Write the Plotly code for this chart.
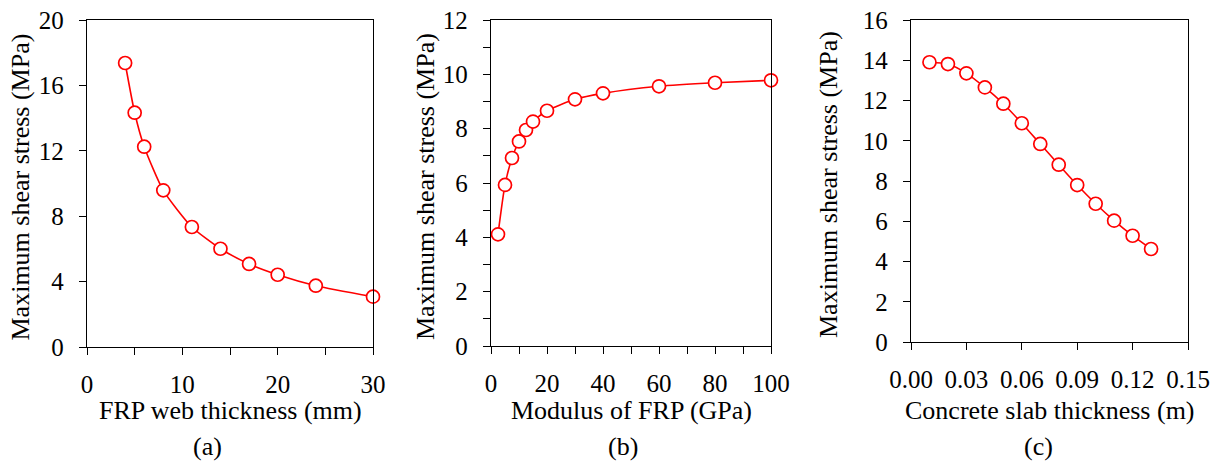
import plotly.graph_objects as go

# Panel (a)
web_thickness = [4, 5, 6, 8, 11, 14, 17, 20, 24, 30]
stress_a = [17.37, 14.33, 12.25, 9.58, 7.34, 6.01, 5.08, 4.42, 3.75, 3.08]

# Panel (b)
modulus = [2.5, 5, 7.5, 10, 12.5, 15, 20, 30, 40, 60, 80, 100]
stress_b = [4.11, 5.93, 6.92, 7.53, 7.95, 8.26, 8.66, 9.08, 9.30, 9.56, 9.69, 9.78]

# Panel (c)
slab_thickness = [0.01, 0.02, 0.03, 0.04, 0.05, 0.06, 0.07, 0.08, 0.09, 0.10, 0.11, 0.12, 0.13]
stress_c = [13.90, 13.81, 13.35, 12.65, 11.84, 10.87, 9.84, 8.81, 7.80, 6.87, 6.03, 5.28, 4.62]

x_titles = ["FRP web thickness (mm)", "Modulus of FRP (GPa)", "Concrete slab thickness (m)"]
y_title = "Maximum shear stress (MPa)"
panel_labels = ["(a)", "(b)", "(c)"]

W, H = 1217, 463
FONT = "Liberation Serif, Times New Roman, serif"
RED = "#FF0000"
FS_TICK = 25
FS_TITLE = 26

fig = go.Figure()

def px_x(p):
    return p / W

def px_y(p):
    return 1 - p / H

domains = [
    ((87, 373), (347, 20)),
    ((491, 771), (346, 20)),
    ((911, 1188), (342, 20)),
]
ytitle_x = [20, 425, 828]
label_x = [207, 623, 1038]

data = [(web_thickness, stress_a), (modulus, stress_b), (slab_thickness, stress_c)]

for i, (xs, ys) in enumerate(data):
    sfx = "" if i == 0 else str(i + 1)
    fig.add_trace(go.Scatter(
        x=xs, y=ys, mode="lines+markers",
        line=dict(color=RED, width=1.6, shape="spline", smoothing=0.6),
        marker=dict(symbol="circle", size=13, color="white", line=dict(color=RED, width=1.7)),
        xaxis="x" + sfx, yaxis="y" + sfx, showlegend=False,
        cliponaxis=False,
    ))

minor_tick = dict(ticks="outside", ticklen=7, tickwidth=1.3, tickcolor="black")
axis_common = dict(
    showline=True, linecolor="black", linewidth=1.4, mirror=True,
    ticks="outside", ticklen=7, tickwidth=1.3, tickcolor="black",
    showgrid=False, zeroline=False, automargin=False,
    tickfont=dict(family=FONT, size=FS_TICK, color="black"),
)

xcfg = [
    dict(range=[0, 30], tickvals=[0, 10, 20, 30], minor=dict(tickvals=[5, 15, 25], **minor_tick)),
    dict(range=[0, 100], tickvals=[0, 20, 40, 60, 80, 100], minor=dict(tickvals=[10, 30, 50, 70, 90], **minor_tick)),
    dict(range=[0, 0.15], tickvals=[0, 0.03, 0.06, 0.09, 0.12, 0.15], tickformat=".2f"),
]
ycfg = [
    dict(range=[0, 20], tickvals=[0, 4, 8, 12, 16, 20]),
    dict(range=[0, 12], tickvals=[0, 2, 4, 6, 8, 10, 12], minor=dict(tickvals=[1, 3, 5, 7, 9, 11], **minor_tick)),
    dict(range=[0, 16], tickvals=[0, 2, 4, 6, 8, 10, 12, 14, 16]),
]

layout = {}
for i, ((x0, x1), (yb, yt)) in enumerate(domains):
    sfx = "" if i == 0 else str(i + 1)
    layout["xaxis" + sfx] = dict(domain=[px_x(x0), px_x(x1)], anchor="y" + sfx,
                                 ticklabelstandoff=8, **axis_common, **xcfg[i])
    layout["yaxis" + sfx] = dict(domain=[px_y(yb), px_y(yt)], anchor="x" + sfx,
                                 ticklabelstandoff=10, **axis_common, **ycfg[i])

fig.update_layout(**layout)

for i, ((x0, x1), (yb, yt)) in enumerate(domains):
    fig.add_annotation(text=x_titles[i], x=px_x((x0 + x1) / 2), y=px_y(410),
                       xref="paper", yref="paper", showarrow=False,
                       font=dict(family=FONT, size=FS_TITLE, color="black"),
                       xanchor="center", yanchor="middle")
    fig.add_annotation(text=y_title, x=px_x(ytitle_x[i]), y=px_y((yb + yt) / 2 + 4),
                       xref="paper", yref="paper", showarrow=False, textangle=-90,
                       font=dict(family=FONT, size=FS_TITLE, color="black"),
                       xanchor="center", yanchor="middle")
    fig.add_annotation(text=panel_labels[i], x=px_x(label_x[i]), y=px_y(462),
                       xref="paper", yref="paper", showarrow=False,
                       font=dict(family=FONT, size=FS_TITLE, color="black"),
                       xanchor="center", yanchor="bottom", borderpad=0)

fig.update_layout(
    width=W, height=H,
    margin=dict(l=0, r=0, t=0, b=0),
    paper_bgcolor="white", plot_bgcolor="white",
    font=dict(family=FONT, color="black"),
)

fig.write_html("out.html", config={"displayModeBar": False},
               post_script="document.body.style.margin='0';document.body.style.padding='0';document.body.style.overflow='hidden';")
